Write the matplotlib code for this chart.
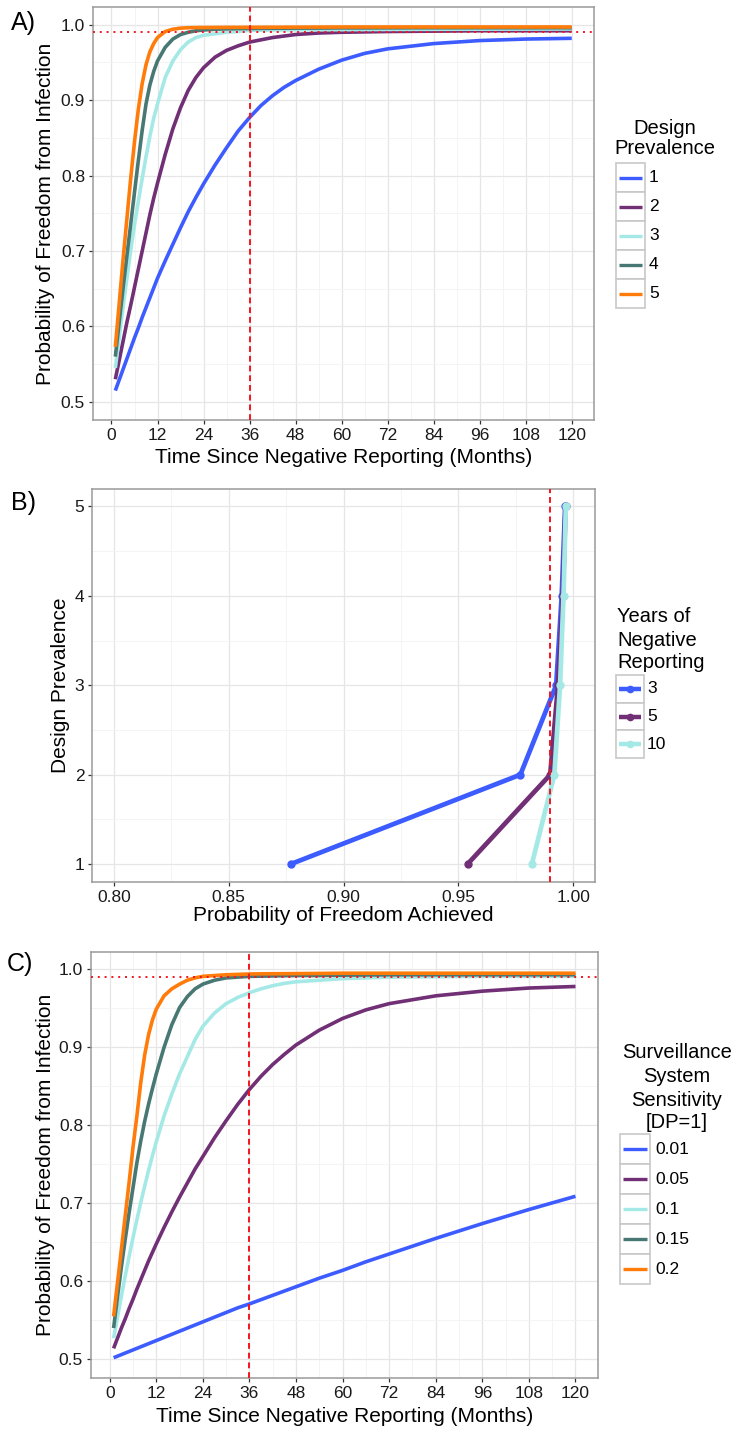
import matplotlib
matplotlib.use('Agg')
import matplotlib.pyplot as plt
from matplotlib.lines import Line2D
from matplotlib.patches import Rectangle

plt.rcParams['font.family'] = ['Liberation Sans', 'DejaVu Sans']

W, H = 736, 1434

# ---- data ----
months = [1, 2, 3, 4, 5, 6, 7, 8, 9, 10, 11, 12, 14, 16, 18, 20, 22, 24, 27, 30,
          33, 36, 39, 42, 45, 48, 54, 60, 66, 72, 84, 96, 108, 120]

# A) design prevalence 1..5
dp_labels = ['1', '2', '3', '4', '5']
a_dp1 = [.515, .529, .543, .557, .571, .585, .598, .612, .625, .638, .651, .664,
         .687, .709, .731, .752, .771, .789, .814, .837, .859, .877,
         .893, .906, .917, .926, .941, .953, .962, .968, .975, .979, .981, .982]
a_dp2 = [.530, .555, .580, .605, .628, .652, .676, .700, .724, .748, .770, .790,
         .828, .862, .890, .913, .930, .943, .957, .966, .972, .977,
         .980, .983, .985, .987, .989, .990, .9905, .991, .9915, .992, .992, .992]
a_dp3 = [.545, .585, .625, .663, .700, .735, .766, .796, .825, .852, .876, .895,
         .930, .952, .967, .977, .983, .986, .988, .990, .991, .9926,
         .9928, .993, .9931, .9932, .9933, .9934, .9935, .9937, .9939, .9941, .9942, .9943]
a_dp4 = [.560, .605, .650, .693, .735, .778, .820, .860, .895, .920, .938, .952,
         .970, .981, .987, .990, .992, .993, .994, .9945, .9948, .995,
         .9951, .9953, .9954, .9955, .9956, .9958, .9958, .9959, .996, .996, .996, .996]
a_dp5 = [.573, .630, .688, .742, .796, .845, .888, .922, .947, .964, .975, .983,
         .991, .994, .9955, .996, .9962, .9963, .9964, .9965, .9965, .9966,
         .9966, .9967, .9967, .9968, .9969, .997, .997, .997, .997, .997, .997, .997]

# B) probability of freedom achieved by years of negative reporting
b_dp = [1, 2, 3, 4, 5]
years_labels = ['3', '5', '10']
b_yr3 = [0.877, 0.977, 0.9926, 0.995, 0.9965]
b_yr5 = [0.954, 0.990, 0.9934, 0.9955, 0.9967]
b_yr10 = [0.982, 0.9918, 0.9943, 0.9958, 0.9968]

# C) surveillance system sensitivity, DP=1
sse_labels = ['0.01', '0.05', '0.1', '0.15', '0.2']
c_s01 = [.502, .504, .506, .508, .510, .512, .514, .516, .518, .520, .522, .524,
         .528, .532, .536, .540, .544, .548, .554, .560, .566, .571,
         .5765, .582, .5875, .593, .604, .614, .625, .635, .655, .674, .692, .709]
c_s05 = [.514, .527, .540, .552, .565, .577, .590, .602, .614, .626, .637, .648,
         .669, .689, .708, .726, .744, .760, .784, .806, .827, .846,
         .863, .878, .891, .903, .922, .937, .948, .956, .966, .972, .976, .978]
c_s10 = [.527, .554, .581, .607, .632, .656, .679, .701, .722, .742, .761, .779,
         .812, .840, .866, .888, .910, .927, .944, .956, .964, .970,
         .975, .979, .982, .984, .986, .988, .989, .990, .9905, .991, .991, .991]
c_s15 = [.540, .580, .618, .654, .688, .720, .752, .780, .805, .827, .847, .866,
         .900, .929, .951, .965, .975, .981, .986, .989, .990, .991,
         .9912, .9915, .9918, .992, .992, .9925, .9927, .993, .993, .993, .993, .993]
c_s20 = [.555, .598, .641, .684, .727, .772, .812, .855, .890, .916, .935, .949,
         .966, .975, .981, .986, .989, .991, .992, .993, .9935, .994,
         .9942, .9943, .9944, .9945, .9947, .995, .995, .995, .995, .995, .995, .995]

colors5 = ['#3d5cff', '#712f75', '#a5e9e7', '#487874', '#ff7c0a']
colors3 = colors5[:3]

fig = plt.figure(figsize=(W / 100, H / 100), dpi=100)


def axes_px(left, top, right, bottom):
    return fig.add_axes([left / W, 1 - bottom / H, (right - left) / W, (bottom - top) / H])


def style(ax):
    ax.set_facecolor('white')
    for s in ax.spines.values():
        s.set_color('#9a9a9a')
        s.set_linewidth(1.1)
    ax.grid(which='major', color='#e6e6e6', lw=0.9)
    ax.grid(which='minor', color='#f3f3f3', lw=0.6)
    ax.set_axisbelow(True)
    ax.tick_params(which='major', length=3, width=0.9, color='#333333', pad=2.5,
                   labelsize=12.5, labelcolor='#1a1a1a')
    ax.tick_params(which='minor', length=0)


def red_lines(ax, vx=None, hy=None):
    if vx is not None:
        ax.axvline(vx, color='#f5141e', lw=1.4, dashes=(3, 2), zorder=5)
    if hy is not None:
        ax.axhline(hy, color='#f5141e', lw=1.4, dashes=(1, 2.5), zorder=5)


def time_axis(ax, ylabel, ylx, xly):
    ax.set_xlim(-4.9, 125.8)
    ax.set_ylim(0.476, 1.0235)
    ax.set_xticks(range(0, 121, 12))
    ax.set_xticks(range(6, 120, 12), minor=True)
    ax.set_yticks([0.5, 0.6, 0.7, 0.8, 0.9, 1.0])
    ax.set_yticklabels(['0.5', '0.6', '0.7', '0.8', '0.9', '1.0'])
    ax.set_yticks([0.55, 0.65, 0.75, 0.85, 0.95], minor=True)
    ax.set_xlabel('Time Since Negative Reporting (Months)', fontsize=15, va='center')
    ax.set_ylabel(ylabel, fontsize=15, va='center')
    ax.xaxis.set_label_coords(0.5, xly)
    ax.yaxis.set_label_coords(ylx, 0.5)


def legend(title_lines, title_x, align, labels, colors, bx, btop, bw, bh, lx,
           points=False, lw=2.4):
    for txt, ty in title_lines:
        fig.text(title_x / W, 1 - ty / H, txt, ha=align, va='center', fontsize=14.5)
    for i, (lab, col) in enumerate(zip(labels, colors)):
        top = btop + i * bh
        fig.add_artist(Rectangle((bx / W, 1 - (top + bh) / H), bw / W, bh / H,
                                 transform=fig.transFigure, fc='white', ec='#c8c8c8', lw=1.2))
        yc = 1 - (top + bh / 2) / H
        fig.add_artist(Line2D([(bx + 3) / W, (bx + bw - 3) / W], [yc, yc],
                              transform=fig.transFigure, color=col, lw=lw,
                              solid_capstyle='butt'))
        if points:
            fig.add_artist(Line2D([(bx + bw / 2) / W], [yc], transform=fig.transFigure,
                                  color=col, marker='o', ms=4.5, lw=0))
        fig.text(lx / W, yc, lab, ha='left', va='center', fontsize=12.5)


# ---- A ----
axA = axes_px(92.7, 7, 594, 420)
style(axA)
for vals, col in zip([a_dp1, a_dp2, a_dp3, a_dp4, a_dp5], colors5):
    axA.plot(months, vals, color=col, lw=2.6, solid_capstyle='butt')
red_lines(axA, 36, 0.99)
time_axis(axA, 'Probability of Freedom from Infection', -0.095, -0.0896)
fig.text(11 / W, 1 - 23 / H, 'A)', fontsize=18, ha='left', va='center')
legend([('Design', 128), ('Prevalence', 149)], 665, 'center', dp_labels, colors5,
       616, 163, 29, 29, 649)

# ---- B ----
axB = axes_px(92, 488.5, 595, 882)
style(axB)
for vals, col in zip([b_yr3, b_yr5, b_yr10], colors3):
    axB.plot(vals, b_dp, color=col, lw=3.4, marker='o', ms=5, solid_capstyle='round')
axB.axvline(0.99, color='#f5141e', lw=1.4, dashes=(3, 2), zorder=5)
axB.set_xlim(0.7905, 1.0095)
axB.set_ylim(0.8, 5.2)
axB.set_xticks([0.80, 0.85, 0.90, 0.95, 1.00])
axB.set_xticklabels(['0.80', '0.85', '0.90', '0.95', '1.00'])
axB.set_xticks([0.825, 0.875, 0.925, 0.975], minor=True)
axB.set_yticks([1, 2, 3, 4, 5])
axB.set_yticks([1.5, 2.5, 3.5, 4.5], minor=True)
axB.set_xlabel('Probability of Freedom Achieved', fontsize=15, va='center')
axB.set_ylabel('Design Prevalence', fontsize=15, va='center')
axB.xaxis.set_label_coords(0.5, -0.084)
axB.yaxis.set_label_coords(-0.0636, 0.5)
fig.text(11 / W, 1 - 503 / H, 'B)', fontsize=18, ha='left', va='center')
legend([('Years of', 617), ('Negative', 640), ('Reporting', 663)], 617, 'left',
       years_labels, colors3, 616, 675, 27.7, 27.7, 647, points=True, lw=3.2)

# ---- C ----
axC = axes_px(90.7, 952, 598, 1378)
style(axC)
for vals, col in zip([c_s01, c_s05, c_s10, c_s15, c_s20], colors5):
    axC.plot(months, vals, color=col, lw=2.6, solid_capstyle='butt')
red_lines(axC, 36, 0.99)
time_axis(axC, 'Probability of Freedom from Infection', -0.09, -0.0915)
axC.set_ylim(0.476, 1.0222)
fig.text(7 / W, 1 - 964 / H, 'C)', fontsize=18, ha='left', va='center')
legend([('Surveillance', 1053), ('System', 1077), ('Sensitivity', 1100), ('[DP=1]', 1123)],
       677, 'center', sse_labels, colors5, 620, 1134, 30, 30, 655)

fig.savefig('out.png', dpi=100, facecolor='white')
